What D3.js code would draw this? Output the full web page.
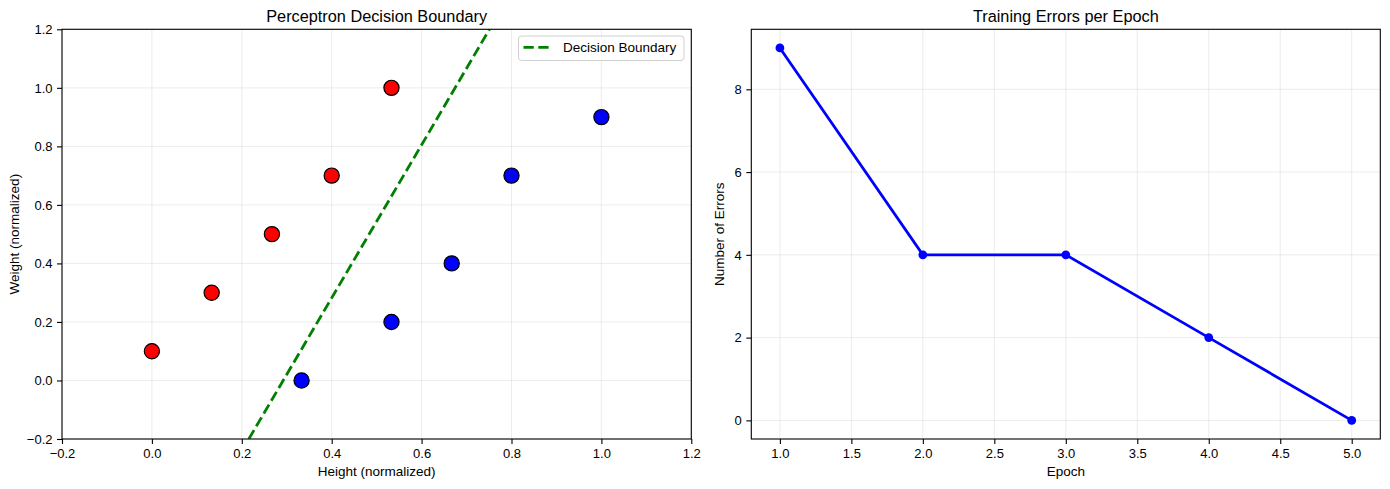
<!DOCTYPE html>
<html>
<head>
<meta charset="utf-8">
<script src="https://cdn.jsdelivr.net/npm/d3@7"></script>
<style>
    body { margin: 0; background: #fff; }
    svg { display: block; font-family: "Liberation Sans", Arial, sans-serif; }
    .tick text { font-size: 13px; fill: #000; }
</style>
</head>
<body>
<div id="chart"></div>
<script>
// 左图：样本点
const classA = [
    { x: 0.000, y: 0.1 },
    { x: 0.133, y: 0.3 },
    { x: 0.267, y: 0.5 },
    { x: 0.400, y: 0.7 },
    { x: 0.533, y: 1.0 }
];
const classB = [
    { x: 0.333, y: 0.0 },
    { x: 0.533, y: 0.2 },
    { x: 0.667, y: 0.4 },
    { x: 0.800, y: 0.7 },
    { x: 1.000, y: 0.9 }
];
// 决策边界的两个端点
const boundary = [
    { x: 0.2156, y: -0.2 },
    { x: 0.7510, y: 1.2 }
];
const leftTicks = [-0.2, 0.0, 0.2, 0.4, 0.6, 0.8, 1.0, 1.2];

// 右图：每个 epoch 的错误数
const epochs = [1, 2, 3, 4, 5];
const errors = [9, 4, 4, 2, 0];
const epochTicks = [1.0, 1.5, 2.0, 2.5, 3.0, 3.5, 4.0, 4.5, 5.0];
const errorTicks = [0, 2, 4, 6, 8];

const W = 1390, H = 489;
const plotTop = 29.3, plotBottom = 439;

const svg = d3.select('#chart').append('svg')
    .attr('width', W)
    .attr('height', H);

function panel(x0, x1, xDomain, yDomain, xTicks, yTicks, xFmt, yFmt, clipId) {
    const x = d3.scaleLinear().domain(xDomain).range([x0, x1]);
    const y = d3.scaleLinear().domain(yDomain).range([plotBottom, plotTop]);

    const grid = svg.append('g').attr('stroke', '#b0b0b0').attr('stroke-opacity', 0.3).attr('stroke-width', 0.8);
    grid.selectAll('line.vx').data(xTicks).join('line')
        .attr('x1', d => x(d)).attr('x2', d => x(d))
        .attr('y1', plotTop).attr('y2', plotBottom);
    grid.selectAll('line.hy').data(yTicks).join('line')
        .attr('y1', d => y(d)).attr('y2', d => y(d))
        .attr('x1', x0).attr('x2', x1);

    svg.append('clipPath').attr('id', clipId)
        .append('rect').attr('x', x0).attr('y', plotTop).attr('width', x1 - x0).attr('height', plotBottom - plotTop);

    const plot = svg.append('g');

    const xAxis = svg.append('g').attr('transform', `translate(0,${plotBottom})`)
        .call(d3.axisBottom(x).tickValues(xTicks).tickFormat(xFmt).tickSize(5).tickPadding(4.5));
    const yAxis = svg.append('g').attr('transform', `translate(${x0},0)`)
        .call(d3.axisLeft(y).tickValues(yTicks).tickFormat(yFmt).tickSize(5).tickPadding(4.5));
    [xAxis, yAxis].forEach(a => {
        a.select('.domain').remove();
        a.selectAll('.tick line').attr('stroke', '#000').attr('stroke-width', 1.1);
        a.selectAll('.tick text').style('font-size', '13px');
    });

    svg.append('rect')
        .attr('x', x0).attr('y', plotTop)
        .attr('width', x1 - x0).attr('height', plotBottom - plotTop)
        .attr('fill', 'none').attr('stroke', '#000').attr('stroke-width', 1.1);

    return { x, y, plot };
}

// ---------- 左图 ----------
const L = panel(62, 691.3, [-0.2, 1.2], [-0.2, 1.2], leftTicks, leftTicks,
    d3.format('.1f'), d3.format('.1f'), 'clipL');

L.plot.append('path')
    .datum(boundary)
    .attr('clip-path', 'url(#clipL)')
    .attr('d', d3.line().x(d => L.x(d.x)).y(d => L.y(d.y)))
    .attr('fill', 'none')
    .attr('stroke', '#008000')
    .attr('stroke-width', 2.8)
    .attr('stroke-dasharray', '10.3,4.5');

L.plot.selectAll('circle.a').data(classA).join('circle')
    .attr('class', 'a')
    .attr('cx', d => L.x(d.x)).attr('cy', d => L.y(d.y)).attr('r', 7.6)
    .attr('fill', '#ff0000').attr('stroke', '#000').attr('stroke-width', 1.2);
L.plot.selectAll('circle.b').data(classB).join('circle')
    .attr('class', 'b')
    .attr('cx', d => L.x(d.x)).attr('cy', d => L.y(d.y)).attr('r', 7.6)
    .attr('fill', '#0000ff').attr('stroke', '#000').attr('stroke-width', 1.2);

// 图例
const lg = svg.append('g').attr('transform', 'translate(518.5,36)');
lg.append('rect').attr('width', 165.5).attr('height', 24.5).attr('rx', 3)
    .attr('fill', '#fff').attr('fill-opacity', 0.8)
    .attr('stroke', '#d0d0d0').attr('stroke-width', 1);
lg.append('line').attr('x1', 5).attr('x2', 33).attr('y1', 11.3).attr('y2', 11.3)
    .attr('stroke', '#008000').attr('stroke-width', 2.8).attr('stroke-dasharray', '10.3,4.5');
lg.append('text').attr('x', 44.5).attr('y', 16.3)
    .style('font-size', '13.5px').text('Decision Boundary');

svg.append('text').attr('x', (62 + 691.3) / 2).attr('y', 22)
    .attr('text-anchor', 'middle').style('font-size', '16.3px')
    .text('Perceptron Decision Boundary');
svg.append('text').attr('x', (62 + 691.3) / 2).attr('y', 476)
    .attr('text-anchor', 'middle').style('font-size', '13.5px')
    .text('Height (normalized)');
svg.append('text').attr('transform', `translate(19,${(plotTop + plotBottom) / 2}) rotate(-90)`)
    .attr('text-anchor', 'middle').style('font-size', '13.5px')
    .text('Weight (normalized)');

// ---------- 右图 ----------
const R = panel(751.3, 1380.3, [0.8, 5.2], [-0.45, 9.45], epochTicks, errorTicks,
    d3.format('.1f'), d3.format('d'), 'clipR');

const errData = epochs.map((e, i) => ({ x: e, y: errors[i] }));
R.plot.append('path')
    .datum(errData)
    .attr('d', d3.line().x(d => R.x(d.x)).y(d => R.y(d.y)))
    .attr('fill', 'none')
    .attr('stroke', '#0000ff')
    .attr('stroke-width', 2.8);
R.plot.selectAll('circle').data(errData).join('circle')
    .attr('cx', d => R.x(d.x)).attr('cy', d => R.y(d.y)).attr('r', 4.4)
    .attr('fill', '#0000ff');

svg.append('text').attr('x', (751.3 + 1380.3) / 2).attr('y', 22)
    .attr('text-anchor', 'middle').style('font-size', '16.3px')
    .text('Training Errors per Epoch');
svg.append('text').attr('x', (751.3 + 1380.3) / 2).attr('y', 476)
    .attr('text-anchor', 'middle').style('font-size', '13.5px')
    .text('Epoch');
svg.append('text').attr('transform', `translate(724,${(plotTop + plotBottom) / 2}) rotate(-90)`)
    .attr('text-anchor', 'middle').style('font-size', '13.5px')
    .text('Number of Errors');
</script>
</body>
</html>
